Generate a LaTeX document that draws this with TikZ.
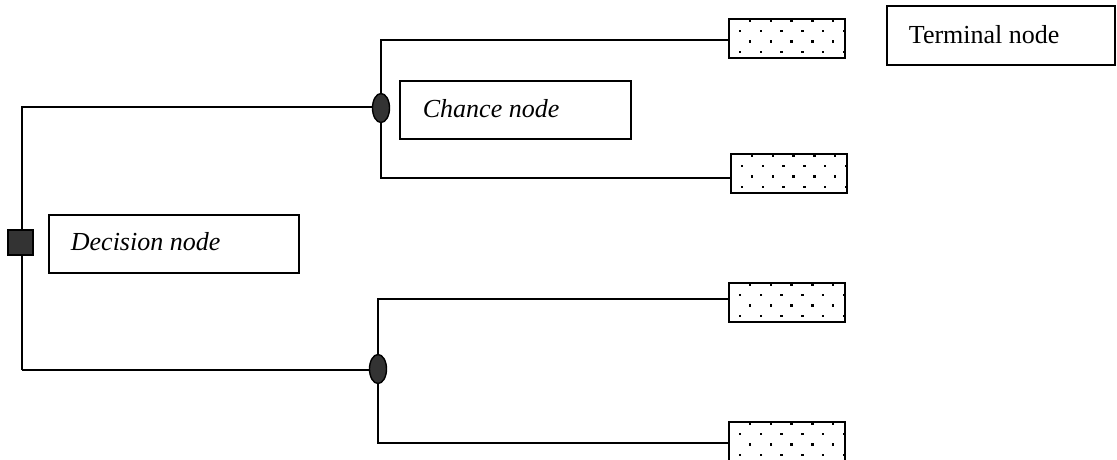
\documentclass[tikz,border=0pt]{standalone}
\usepackage{fontspec}
\setmainfont{Liberation Serif}
\usetikzlibrary{shapes.geometric}
\definecolor{nodegray}{HTML}{333333}
\newcommand\termdots[2]{%
  \begin{scope}
  \clip (#1,#2) rectangle ++(116,39);
  \foreach \j in {0,...,3} {
    \pgfmathsetmacro\off{11+10*(1-mod(\j,2))}
    \foreach \i in {0,...,5} {
      \fill ({#1+\off+20.8*\i-1.25},{#2+1.5+10.5*\j-1.25}) rectangle ++(2.5,2.5);
    }
  }
  \end{scope}}
\begin{document}
\begin{tikzpicture}[x=1pt,y=-1pt,
  line width=1.8pt,
  decision/.style={draw=black,fill=nodegray,line width=1.4pt,minimum size=25pt,inner sep=0pt},
  chance/.style={ellipse,draw=black,fill=nodegray,line width=1.4pt,minimum width=17pt,minimum height=29pt,inner sep=0pt},
  terminal/.style={draw=black,fill=white,line width=1.8pt,minimum width=116pt,minimum height=39pt,inner sep=0pt},
  labelbox/.style={draw=black,line width=1.6pt,minimum height=58pt,inner sep=0pt},
  labeltext/.style={anchor=base west,inner sep=0pt,font=\fontsize{26}{30}\selectfont}
]
\useasboundingbox (0,0) rectangle (1117,459);

% decision node and its trunk
\coordinate (tl) at (22,107);
\coordinate (bl) at (22,370);
\node[chance] (c1) at (381,108) {};
\node[chance] (c2) at (378,369) {};
\draw (bl) -- (tl) -- (tl -| c1.west);
\draw (bl) -- (bl -| c2.west);
\node[decision] (dec) at (20.5,242.5) {};

% terminal nodes
\node[terminal] (t1) at (787,38.5) {};
\node[terminal] (t2) at (789,173.5) {};
\node[terminal] (t3) at (787,302.5) {};
\node[terminal] (t4) at (787,441.5) {};
\termdots{729}{19}
\termdots{731}{154}
\termdots{729}{283}
\termdots{729}{422}

% branches from chance nodes
\coordinate (e1) at (729,40);
\coordinate (e2) at (731,178);
\coordinate (e3) at (729,299);
\coordinate (e4) at (729,443);
\draw (c1.north) |- (e1);
\draw (c1.south) |- (e2);
\draw (c2.north) |- (e3);
\draw (c2.south) |- (e4);

% label boxes
\node[labelbox,minimum width=231pt] (cbox) at (515.5,110) {};
\node[labeltext] (ctext) at (422,117) {\itshape Chance node};
\node[labelbox,minimum width=250pt] (dbox) at (174,244) {};
\node[labeltext] (dtext) at (70,250) {\itshape Decision node};
\node[labelbox,minimum width=228pt,minimum height=59pt] (tbox) at (1001,35.5) {};
\node[labeltext] (ttext) at (908,43) {Terminal node};
\end{tikzpicture}
\end{document}
